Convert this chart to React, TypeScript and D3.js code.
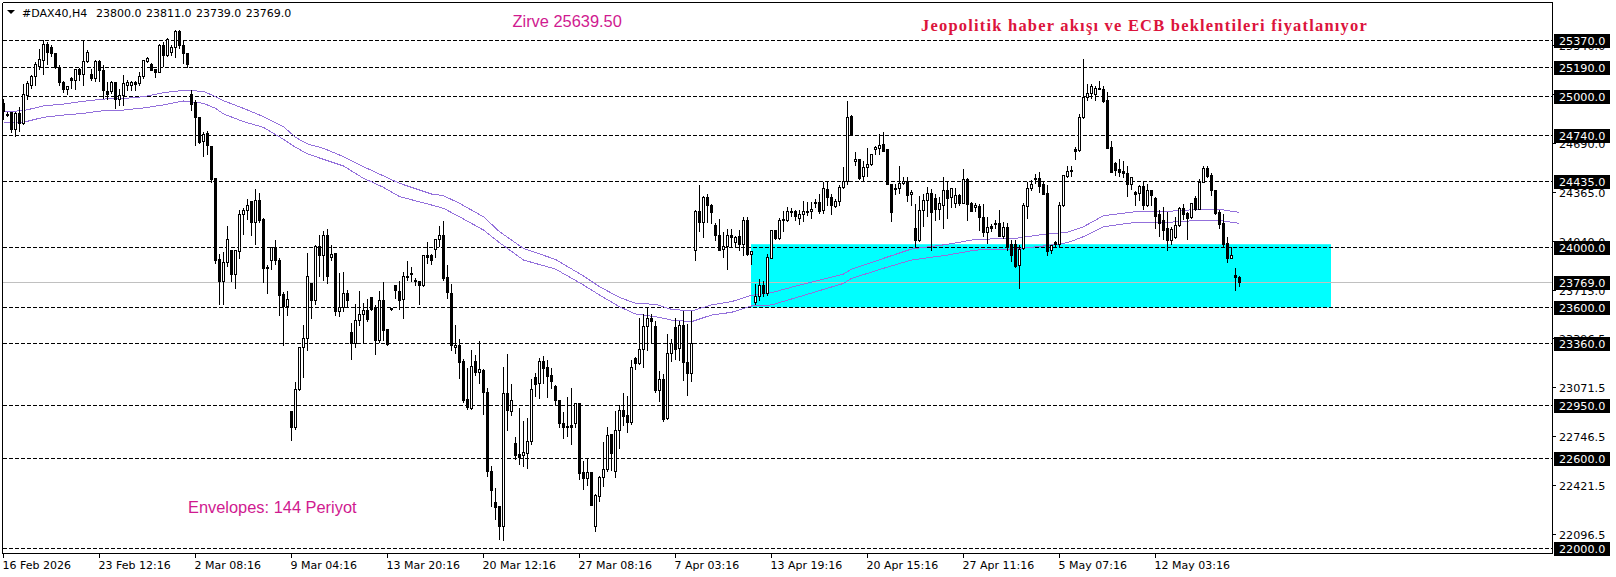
import React from "react";
import * as d3 from "d3";

const opens = [
24955,24882,24895,24782,24884,24818,25005,25076,25131,25202,
25238,25342,25326,25286,25191,25094,25047,25120,25109,25182,
25143,25235,25149,25120,25233,25171,25036,25036,25094,24983,
25005,25076,25076,25092,25083,25131,25231,25215,25176,25160,
25339,25269,25293,25326,25428,25339,25286,25010,24959,24862,
24700,24756,24667,24457,23919,23771,23897,23975,23816,23970,
24216,24242,24306,24163,24313,24187,23866,23915,23995,23915,
23687,23605,22908,22802,23058,23334,23395,23760,23645,24003,
23944,24081,23933,23955,23572,23601,23694,23434,23361,23511,
23553,23582,23666,23600,23379,23648,23456,23591,23748,23708,
23650,23809,23827,23782,23771,23745,23942,23942,23986,24052,
24079,23800,23690,23333,23349,23243,22991,22933,23243,23172,
23183,23035,22513,22305,22281,22150,23028,22913,22697,22626,
22615,22630,22708,23134,23099,23243,23201,23150,23077,22984,
22829,22812,22818,22829,22966,22504,22464,22504,22144,22349,
22471,22524,22756,22509,22785,22918,22885,22834,23260,23227,
23322,23473,23528,23477,23050,23121,22862,23294,23466,23327,
23481,23232,23161,23977,24238,24163,24331,24280,24147,24081,
23986,24003,24081,24032,24070,24015,24174,23953,23636,23676,
23749,23694,23926,24110,24059,24185,24180,24240,24236,24191,
24220,24238,24236,24298,24298,24242,24384,24331,24269,24302,
24397,24435,24870,24567,24583,24468,24530,24547,24649,24656,
24684,24645,24417,24390,24390,24424,24439,24351,24125,24043,
24242,24313,24357,24320,24251,24275,24379,24329,24291,24346,
24287,24452,24287,24262,24273,24198,24096,24136,24160,24158,
24074,24132,24015,24015,23877,23992,24269,24390,24459,24459,
24413,24357,23975,24034,24021,24280,24468,24512,24645,24640,
24859,24994,25021,25010,25054,25047,24970,24662,24556,24516,
24499,24490,24419,24362,24357,24401,24280,24379,24324,24220,
24180,24121,24043,24063,24143,24258,24225,24198,24324,24251,
24430,24523,24474,24379,24229,24158,24026,23928,23813,23800,
];

const highs = [
24988,24899,24899,24899,24932,25087,25109,25143,25231,25319,
25375,25364,25342,25291,25209,25109,25076,25131,25187,25193,
25379,25313,25187,25242,25242,25209,25098,25103,25098,25054,
25143,25114,25103,25109,25165,25246,25264,25224,25187,25353,
25364,25392,25342,25441,25445,25375,25291,25043,24977,24866,
24767,24773,24672,24463,23959,23970,24147,23981,23986,24247,
24264,24320,24313,24390,24364,24198,23886,23999,24048,23933,
23709,23716,22919,23107,23343,23489,23966,23765,24021,24087,
24114,24125,24015,23959,23831,23842,23720,23500,23626,23715,
23631,23659,23675,23622,23715,23774,23460,23597,23754,23781,
23838,23915,23875,23800,23776,23948,24041,23955,24059,24147,
24174,23886,23756,23484,23393,23260,23205,23320,23289,23382,
23194,23072,22553,22409,22288,23210,23294,23095,22745,22940,
22851,22869,23128,23168,23267,23283,23254,23201,23088,22988,
22911,23011,23072,22966,22973,22586,22597,22509,22365,22487,
22712,22812,22758,22918,22955,23039,23017,23256,23276,23532,
23561,23601,23561,23517,23183,23161,23426,23393,23532,23515,
23581,23493,23577,24247,24419,24346,24357,24291,24163,24191,
24103,24125,24125,24081,24118,24202,24202,23981,23756,23793,
23782,23955,24114,24118,24196,24242,24273,24264,24247,24247,
24313,24302,24302,24324,24357,24435,24441,24357,24324,24413,
24534,24970,24883,24634,24589,24574,24662,24623,24678,24755,
24766,24649,24424,24424,24545,24472,24468,24384,24291,24340,
24357,24406,24390,24357,24335,24472,24441,24390,24397,24357,
24519,24463,24302,24295,24291,24291,24202,24158,24187,24247,
24169,24163,24048,24048,24015,24295,24435,24446,24490,24501,
24435,24413,24010,24043,24302,24485,24539,24539,24667,24888,
25253,25087,25087,25076,25109,25076,25032,24711,24567,24589,
24574,24545,24472,24375,24413,24435,24424,24384,24335,24247,
24273,24236,24136,24202,24269,24287,24236,24295,24342,24457,
24541,24541,24497,24379,24247,24225,24070,24008,23866,23811,
];

const lows = [
24844,24866,24760,24734,24767,24811,24981,25054,25070,25180,
25149,25215,25264,25187,25076,25025,25014,25054,25043,25109,
25070,25224,25109,25098,25098,24988,24981,25021,24917,24937,
24937,25039,25039,25039,25070,25120,25224,25169,25125,25158,
25198,25264,25275,25260,25319,25220,25191,24910,24674,24685,
24601,24612,24428,23893,23617,23617,23875,23771,23723,23926,
24087,24187,24081,24021,24163,23765,23690,23853,23888,23544,
23347,23550,22715,22793,23051,23133,23318,23524,23617,23804,
23778,23756,23915,23550,23539,23572,23601,23257,23332,23483,
23368,23505,23582,23290,23365,23383,23350,23582,23659,23589,
23528,23778,23771,23745,23623,23738,23893,23888,23933,24008,
23782,23659,23318,23294,23128,22973,22924,22924,23150,23099,
22891,22482,22283,22195,22062,22055,22781,22885,22590,22560,
22546,22535,22692,23011,22999,23099,23006,23066,22957,22807,
22734,22745,22692,22801,22460,22394,22416,22288,22115,22316,
22414,22513,22520,22475,22668,22814,22774,22823,23190,23221,
23205,23318,23362,23035,22977,22847,22858,23245,23254,23249,
23117,23013,23112,23915,24107,24063,24163,24158,24043,23975,
23930,23853,24003,24003,23981,23942,23942,23888,23617,23645,
23676,23683,23922,24052,24048,24107,24169,24202,24180,24154,
24169,24209,24191,24264,24225,24225,24280,24214,24264,24280,
24390,24419,24742,24545,24450,24439,24468,24541,24618,24618,
24634,24413,24169,24353,24357,24419,24302,24280,24003,24037,
24136,24202,23981,24176,24181,24121,24191,24264,24264,24280,
24287,24176,24236,24236,24114,24074,24026,24103,24125,24070,
24059,23977,23904,23866,23723,23986,24191,24379,24424,24362,
24351,23942,23959,24003,24003,24269,24463,24468,24585,24634,
24855,24976,24987,24976,25043,24959,24656,24494,24479,24468,
24463,24335,24384,24280,24313,24253,24273,24280,24121,24070,
24048,23981,24015,24059,24136,24181,24054,24191,24242,24247,
24428,24463,24340,24214,24125,24003,23900,23926,23716,23739,
];

const closes = [
24899,24880,24782,24884,24818,25010,25087,25131,25209,25246,
25348,25291,25282,25191,25092,25047,25065,25109,25180,25143,
25235,25293,25120,25235,25171,25039,25014,25094,24983,25005,
25083,25096,25094,25081,25131,25238,25255,25171,25158,25335,
25269,25379,25326,25428,25337,25282,25209,24944,24862,24694,
24749,24674,24446,23915,23771,23897,24052,23816,23981,24218,
24242,24278,24163,24311,24180,23858,23858,23995,23911,23683,
23605,23650,22802,23058,23334,23394,23804,23645,24003,23944,
24081,23809,23950,23572,23601,23694,23645,23361,23511,23553,
23582,23520,23589,23379,23648,23449,23354,23589,23710,23648,
23804,23796,23816,23771,23745,23942,23933,23911,24052,24079,
23793,23698,23351,23349,23238,22984,22940,23210,23172,23190,
23033,22509,22387,22276,22148,23028,22918,22980,22619,22608,
22637,22708,23055,23090,23245,23198,23143,23106,22980,22829,
22807,22807,22801,22962,22502,22464,22504,22288,22354,22471,
22524,22750,22630,22785,22918,22880,22834,23201,23227,23320,
23477,23528,23506,23050,23121,22858,23294,23364,23322,23481,
23232,23161,23364,24238,24163,24331,24280,24229,24076,23981,
24003,24081,24063,24063,24015,24174,23953,23973,23676,23749,
23694,23933,24110,24059,24180,24176,24240,24229,24207,24220,
24238,24236,24251,24287,24240,24390,24329,24275,24302,24397,
24435,24861,24742,24583,24457,24530,24547,24616,24662,24676,
24634,24413,24229,24388,24424,24437,24346,24364,24043,24242,
24313,24357,24229,24247,24287,24379,24320,24390,24346,24287,
24452,24282,24236,24280,24196,24096,24132,24121,24152,24074,
24132,24003,23942,23875,23988,24280,24390,24413,24450,24406,
24351,23970,24010,24021,24280,24477,24501,24501,24636,24861,
24994,25021,25069,25054,25047,24965,24656,24497,24512,24494,
24486,24419,24463,24353,24401,24280,24379,24342,24207,24158,
24114,24043,24118,24145,24258,24216,24191,24291,24251,24430,
24523,24468,24379,24225,24154,24021,23922,23942,23796,23769,
];

const envBars = [0,5,10,15,20,25,30,35,40,45,50,53,55,60,65,70,73,76,80,85,90,95,99,107,110,114,120,124,130,138,145,149,154,158,163,167,172,177,182,187,192,199,210,212,220,227,236,243,253,260,266,270,275,283,291,299,304,309];
const envUpper = [24899,24906,24937,24950,24968,24983,24986,24999,25025,25041,25034,24999,24972,24921,24866,24800,24729,24685,24656,24601,24534,24473,24424,24353,24342,24291,24202,24103,23992,23919,23809,23738,23667,23628,23621,23588,23577,23617,23639,23681,23698,23749,23822,23855,23926,23988,24019,24052,24059,24085,24099,24136,24209,24236,24238,24251,24251,24231];
const envLower = [24829,24829,24862,24877,24888,24906,24910,24924,24944,24970,24955,24921,24884,24833,24795,24716,24663,24619,24583,24539,24457,24397,24336,24280,24258,24202,24114,24030,23915,23855,23749,23683,23605,23557,23539,23517,23506,23550,23568,23610,23617,23672,23760,23793,23860,23915,23948,23981,23988,24008,24030,24070,24136,24165,24165,24178,24178,24158];

const levels = [25370,25190,25000,24740,24435,24000,23600,23360,22950,22600,22000];
const axisTicks = [25340,25015,24690,24365,24040,23715,23396.5,23071.5,22746.5,22421.5,22096.5];
const lastClose = 23769;
const zoneTop = 24020;
const zoneBottom = 23600;
const timeLabels = ["16 Feb 2026","23 Feb 12:16","2 Mar 08:16","9 Mar 04:16","13 Mar 20:16","20 Mar 12:16","27 Mar 08:16","7 Apr 03:16","13 Apr 19:16","20 Apr 15:16","27 Apr 11:16","5 May 07:16","12 May 03:16"];
const barsPerLabel = 24;
const zoneFromBar = 187;
const zoneToBar = 332;
const headerText = "#DAX40,H4  23800.0 23811.0 23739.0 23769.0";

const W = 1616, H = 577;
const plot = { left: 2.5, right: 1552.5, top: 2.5, bottom: 553.5 };
const UI = "Tahoma, 'DejaVu Sans', sans-serif";

const x = d3.scaleLinear().domain([0, 1]).range([3.5, 7.5]);
const y = d3.scaleLinear().domain([25370, 22000]).range([40.7, 548.7]);
const px = (v: number) => Math.round(y(v) - 0.5) + 0.5;

const envLine = (vals: number[]) =>
  d3.line<number>().x((_, i) => x(envBars[i])).y(d => y(d))(vals) ?? "";

export default function App() {
  return (
    <svg width={W} height={H} viewBox={`0 0 ${W} ${H}`}
      style={{ position: "absolute", left: 0, top: 0, display: "block", background: "#fff" }}>
      <rect x={x(zoneFromBar) - 0.5} y={y(zoneTop)} width={x(zoneToBar) - x(zoneFromBar)} height={y(zoneBottom) - y(zoneTop)} fill="#00ffff" />
      <line x1={plot.left} x2={plot.right} y1={px(lastClose)} y2={px(lastClose)} stroke="#c0c0c0" shapeRendering="crispEdges" />
      {levels.map(l => (
        <line key={l} x1={plot.left} x2={plot.right} y1={px(l)} y2={px(l)} stroke="#000" strokeDasharray="4 2" shapeRendering="crispEdges" />
      ))}
      <path d={envLine(envUpper)} fill="none" stroke="#9370db" strokeWidth={1} shapeRendering="crispEdges" />
      <path d={envLine(envLower)} fill="none" stroke="#9370db" strokeWidth={1} shapeRendering="crispEdges" />
      <g shapeRendering="crispEdges">
        {opens.map((o, i) => {
          const c = closes[i];
          const cx = x(i);
          const top = px(Math.max(o, c));
          const bot = px(Math.min(o, c));
          const up = c >= o;
          return (
            <g key={i}>
              <line x1={cx} x2={cx} y1={px(highs[i])} y2={px(lows[i])} stroke="#000" />
              <rect x={cx - 1} y={top} width={2} height={Math.max(bot - top, 1)} fill={up ? "#fff" : "#000"} stroke="#000" />
            </g>
          );
        })}
      </g>
      <g shapeRendering="crispEdges" stroke="#000">
        <line x1={plot.left} x2={plot.right} y1={plot.top} y2={plot.top} />
        <line x1={plot.left} x2={plot.right} y1={plot.bottom} y2={plot.bottom} />
        <line x1={plot.left} x2={plot.left} y1={plot.top} y2={plot.bottom} />
        <line x1={plot.right} x2={plot.right} y1={plot.top} y2={plot.bottom} />
      </g>
      <path d="M7 10 L15 10 L11 14 Z" fill="#000" />
      <text x={22} y={17} fontFamily={UI} fontSize={11} wordSpacing={0.9} fill="#000" xmlSpace="preserve">{headerText}</text>
      <text x={512.5} y={26.5} fontFamily="'Liberation Sans', Arial, sans-serif" fontSize={16.4} fill="#d01a90">Zirve 25639.50</text>
      <text x={921} y={31} fontFamily="'Liberation Serif', 'Times New Roman', serif" fontWeight="bold" fontSize={16.5} letterSpacing={1.2} fill="#dc143c">Jeopolitik haber akışı ve ECB beklentileri fiyatlanıyor</text>
      <text x={188} y={513} fontFamily="'Liberation Sans', Arial, sans-serif" fontSize={16.4} fill="#d01a90">Envelopes: 144 Periyot</text>
      {axisTicks.map(t => (
        <g key={t}>
          <line x1={plot.right} x2={plot.right + 3} y1={px(t)} y2={px(t)} stroke="#000" shapeRendering="crispEdges" />
          <text x={1559} y={px(t) + 4} fontFamily={UI} fontSize={11.2} fill="#000">{t.toFixed(1)}</text>
        </g>
      ))}
      {levels.concat(lastClose).map(l => (
        <g key={l}>
          <rect x={1554} y={px(l) - 6.5} width={56} height={14} fill="#000" />
          <text x={1559} y={px(l) + 4.5} fontFamily={UI} fontSize={11.2} fill="#fff">{l.toFixed(1)}</text>
        </g>
      ))}
      {timeLabels.map((t, k) => (
        <g key={t}>
          <line x1={x(k * barsPerLabel)} x2={x(k * barsPerLabel)} y1={plot.bottom} y2={plot.bottom + 4} stroke="#000" shapeRendering="crispEdges" />
          <text x={x(k * barsPerLabel) - 1} y={569} fontFamily={UI} fontSize={11} fill="#000">{t}</text>
        </g>
      ))}
    </svg>
  );
}
